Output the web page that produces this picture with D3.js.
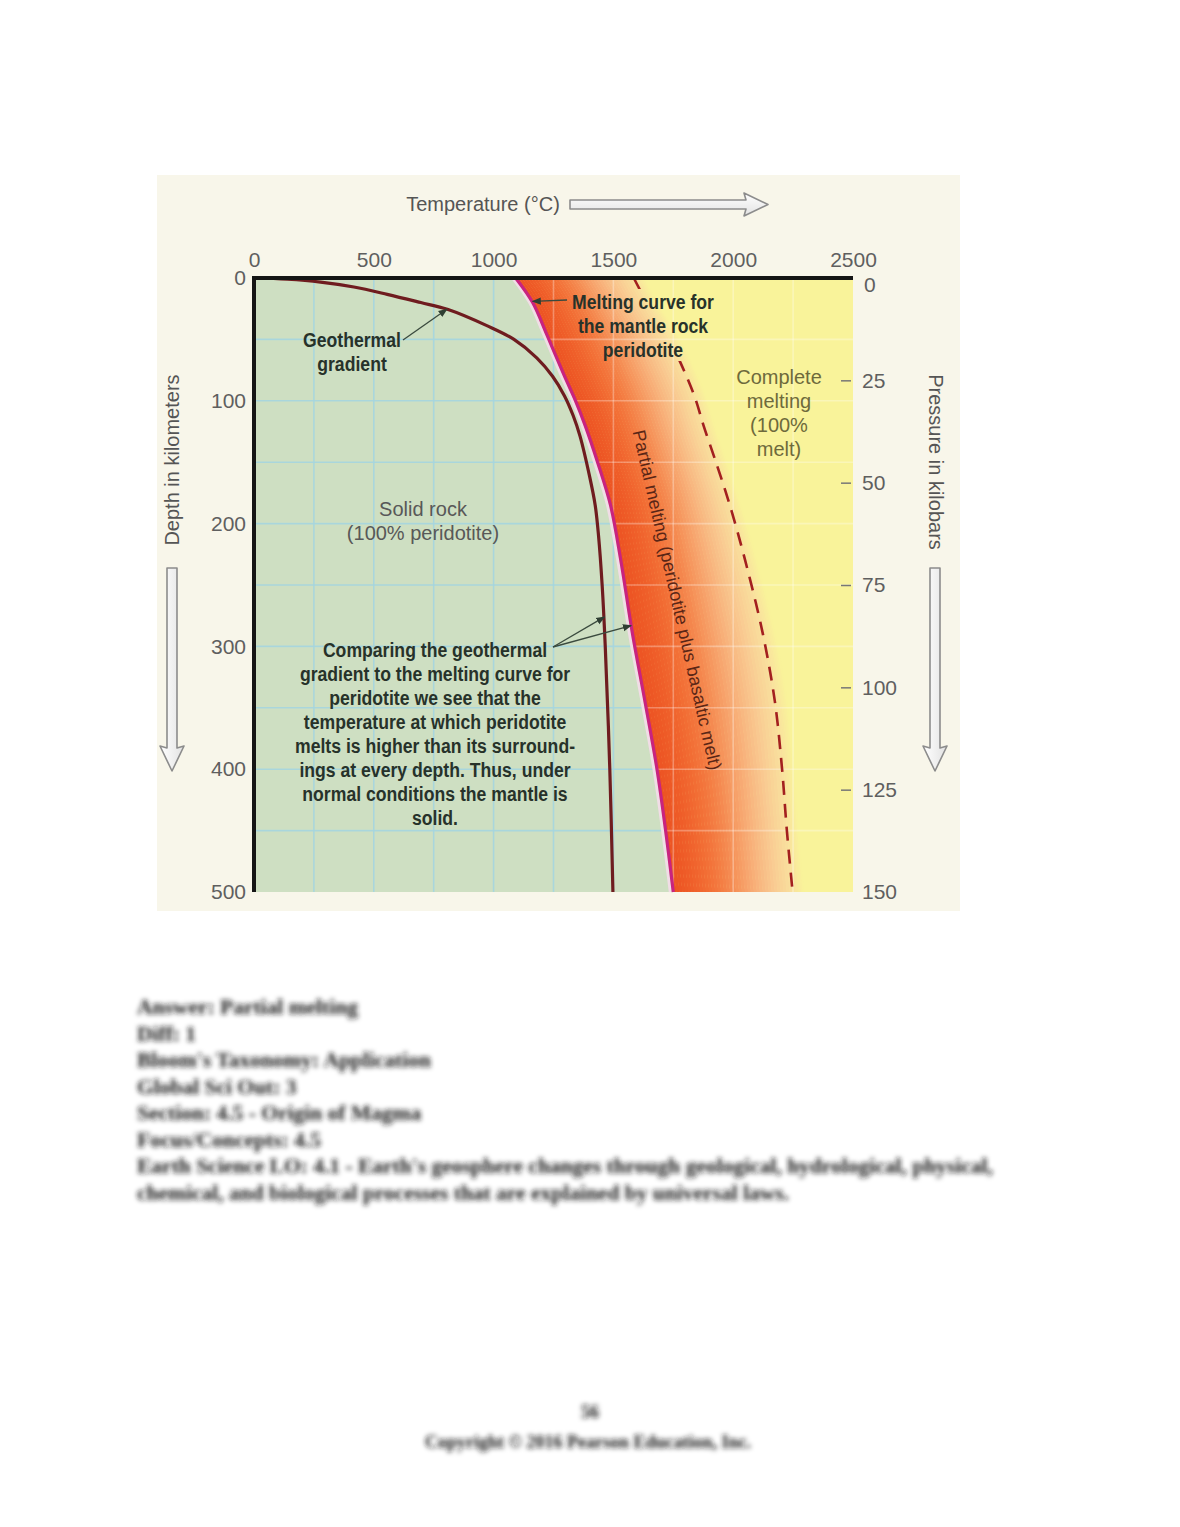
<!DOCTYPE html>
<html>
<head>
<meta charset="utf-8">
<script src="https://cdn.jsdelivr.net/npm/d3@7/dist/d3.min.js"></script>
<style>
  html, body { margin: 0; padding: 0; background: #ffffff; }
  svg { display: block; }
</style>
</head>
<body>
<script>
// ---------------- DATA ----------------
const tempTicks = [0, 500, 1000, 1500, 2000, 2500];
const depthTicks = [0, 100, 200, 300, 400, 500];
const pressureTicks = [0, 25, 50, 75, 100, 125, 150];
const tempGrid = [250, 500, 750, 1000, 1250, 1500, 1750, 2000, 2250];
const depthGrid = [50, 100, 150, 200, 250, 300, 350, 400, 450];

// Geothermal gradient (depth km, temperature °C)
const geoDepth = [0, 1, 3.3, 7.3, 13.3, 20, 25.5, 39, 50, 65, 80, 96, 112, 129, 161, 185, 210, 250, 300, 400, 500];
const geoTemp  = [0, 139, 278, 417, 556, 696, 807, 974, 1085, 1180, 1246, 1296, 1332, 1361, 1400, 1424, 1438, 1453, 1466, 1485, 1498];

// Melting curves of peridotite (shared depth grid)
const meltDepth    = [0, 20, 47, 80, 100, 120, 150, 185, 230, 290, 345, 400, 450, 500];
const solidusTemp  = [1092, 1163, 1224, 1296, 1342, 1382, 1434, 1488, 1531, 1580, 1632, 1682, 1718, 1750];
const liquidusTemp = [1585, 1640, 1725, 1805, 1845, 1876, 1928, 1986, 2050, 2124, 2174, 2204, 2224, 2248];

const footerLines = [
  "Answer:  Partial melting",
  "Diff: 1",
  "Bloom's Taxonomy:  Application",
  "Global Sci Out:  3",
  "Section:  4.5 - Origin of Magma",
  "Focus/Concepts:  4.5",
  "Earth Science LO:  4.1 - Earth's geosphere changes through geological, hydrological, physical,",
  "chemical, and biological processes that are explained by universal laws."
];

// ---------------- SETUP ----------------
const W = 1180, H = 1527;
const svg = d3.select("body").append("svg").attr("width", W).attr("height", H);
const x = d3.scaleLinear().domain([0, 2500]).range([254, 853]);
const y = d3.scaleLinear().domain([0, 500]).range([278, 892]);
const p = d3.scaleLinear().domain([0, 150]).range([278, 892]);

const SANS = "'Liberation Sans', Arial, sans-serif";

const defs = svg.append("defs");
defs.append("marker").attr("id", "ah").attr("viewBox", "0 0 10 10")
  .attr("refX", 9).attr("refY", 5).attr("markerWidth", 7).attr("markerHeight", 7)
  .attr("orient", "auto-start-reverse")
  .append("path").attr("d", "M0,1 L10,5 L0,9 Z").attr("fill", "#2f3f33");
const ag = defs.append("linearGradient").attr("id", "arrowGrad").attr("x1", 0).attr("y1", 0).attr("x2", 0).attr("y2", 1);
ag.append("stop").attr("offset", "0").attr("stop-color", "#ffffff");
ag.append("stop").attr("offset", "1").attr("stop-color", "#e2e2e2");
const agv = defs.append("linearGradient").attr("id", "arrowGradV").attr("x1", 0).attr("y1", 0).attr("x2", 1).attr("y2", 0);
agv.append("stop").attr("offset", "0").attr("stop-color", "#ffffff");
agv.append("stop").attr("offset", "1").attr("stop-color", "#e2e2e2");
defs.append("filter").attr("id", "blur").attr("x", "-5%").attr("y", "-50%").attr("width", "110%").attr("height", "200%")
  .append("feGaussianBlur").attr("stdDeviation", 2.4);

// mask hiding the dashed line behind the "Melting curve" label
const mk = defs.append("mask").attr("id", "labelMask").attr("maskUnits", "userSpaceOnUse")
  .attr("x", 0).attr("y", 0).attr("width", W).attr("height", H);
mk.append("rect").attr("x", 0).attr("y", 0).attr("width", W).attr("height", H).attr("fill", "#fff");
mk.append("rect").attr("x", 565).attr("y", 289).attr("width", 160).attr("height", 72).attr("fill", "#000");

// panel
svg.append("rect").attr("x", 157).attr("y", 175).attr("width", 803).attr("height", 736).attr("fill", "#f8f6ea");

// ---------------- REGIONS ----------------
const melt = meltDepth.map((d, i) => ({ d, s: solidusTemp[i], l: liquidusTemp[i] }));
const geo = geoDepth.map((d, i) => ({ d, t: geoTemp[i] }));
const curve = d3.curveCatmullRom.alpha(0.5);

svg.append("rect").attr("x", x(0)).attr("y", y(0)).attr("width", x(2500) - x(0)).attr("height", y(500) - y(0))
  .attr("fill", "#cedfc2");

defs.append("clipPath").attr("id", "leftClip").append("path")
  .attr("d", d3.area().curve(curve).y(m => y(m.d)).x0(x(0)).x1(m => x(m.s))(melt));
defs.append("clipPath").attr("id", "rightClip").append("path")
  .attr("d", d3.area().curve(curve).y(m => y(m.d)).x0(m => x(m.s)).x1(x(2500))(melt));

svg.append("path")
  .attr("d", d3.area().curve(curve).y(m => y(m.d)).x0(m => x(m.s)).x1(x(2500))(melt))
  .attr("fill", "#f9f39a");

const ramp = d3.interpolateRgbBasis(["#ec5223", "#ef5d28", "#f26c33", "#f47f45", "#f69a62", "#f8b47e", "#f9cc94", "#f9e09e"]);
const N = 40;
for (let k = 0; k < N; k++) {
  const f0 = k / N, f1 = Math.min((k + 1.15) / N, 1);
  svg.append("path")
    .attr("d", d3.area().curve(curve).y(m => y(m.d))
      .x0(m => x(m.s + f0 * (m.l - m.s)))
      .x1(m => x(m.s + f1 * (m.l - m.s)))(melt))
    .attr("fill", ramp((k + 0.5) / N));
}
const fade = d3.interpolateRgb("#f9e09e", "#f9f39a");
const M = 8;
for (let k = 0; k < M; k++) {
  const f0 = 1 + k * 0.012, f1 = 1 + (k + 1.2) * 0.012;
  svg.append("path")
    .attr("d", d3.area().curve(curve).y(m => y(m.d))
      .x0(m => x(m.s + f0 * (m.l - m.s)))
      .x1(m => x(m.s + f1 * (m.l - m.s)))(melt))
    .attr("fill", fade((k + 0.5) / M));
}

// ---------------- GRID ----------------
function grid(g, color, op) {
  g.selectAll("line.v").data(tempGrid).join("line").attr("class", "v")
    .attr("x1", d => x(d)).attr("x2", d => x(d)).attr("y1", y(0)).attr("y2", y(500))
    .attr("stroke", color).attr("stroke-width", 1.6).attr("opacity", op);
  g.selectAll("line.h").data(depthGrid).join("line").attr("class", "h")
    .attr("y1", d => y(d)).attr("y2", d => y(d)).attr("x1", x(0)).attr("x2", x(2500))
    .attr("stroke", color).attr("stroke-width", 1.6).attr("opacity", op);
}
grid(svg.append("g").attr("clip-path", "url(#leftClip)"), "#a6d6df", 0.9);
grid(svg.append("g").attr("clip-path", "url(#rightClip)"), "#ffffff", 0.3);

// ---------------- CURVES ----------------
svg.append("path")
  .attr("d", d3.line().curve(curve).y(m => y(m.d)).x(m => x(m.l))(melt))
  .attr("fill", "none").attr("stroke", "#a3201f").attr("stroke-width", 2.6)
  .attr("stroke-dasharray", "14,9").attr("mask", "url(#labelMask)");
svg.append("path")
  .attr("d", d3.line().curve(curve).y(m => y(m.d)).x(m => x(m.s) - 3)(melt))
  .attr("fill", "none").attr("stroke", "#f1dde6").attr("stroke-width", 3);
svg.append("path")
  .attr("d", d3.line().curve(curve).y(m => y(m.d)).x(m => x(m.s))(melt))
  .attr("fill", "none").attr("stroke", "#c9237f").attr("stroke-width", 3.2);
svg.append("path")
  .attr("d", d3.line().curve(curve).y(g => y(g.d)).x(g => x(g.t))(geo))
  .attr("fill", "none").attr("stroke", "#6f1c1f").attr("stroke-width", 3.2);

// ---------------- AXES ----------------
svg.append("line").attr("x1", x(0) - 2).attr("x2", x(2500)).attr("y1", y(0)).attr("y2", y(0))
  .attr("stroke", "#151515").attr("stroke-width", 4);
svg.append("line").attr("x1", x(0)).attr("x2", x(0)).attr("y1", y(0)).attr("y2", y(500))
  .attr("stroke", "#151515").attr("stroke-width", 4);

function styleAxis(g) {
  g.select(".domain").remove();
  g.selectAll("text").attr("font-family", SANS).attr("font-size", 21).attr("fill", "#5f5f5f");
}
svg.append("g").attr("transform", "translate(0,267)")
  .call(d3.axisTop(x).tickValues(tempTicks).tickSize(0).tickPadding(0).tickFormat(d3.format("d")))
  .call(styleAxis);
svg.append("g").attr("transform", "translate(246,0)")
  .call(d3.axisLeft(y).tickValues(depthTicks).tickSize(0).tickPadding(0).tickFormat(d3.format("d")))
  .call(styleAxis);
const rAx = svg.append("g").attr("transform", "translate(841,0)")
  .call(d3.axisRight(p).tickValues(pressureTicks).tickSize(10).tickPadding(11).tickFormat(d3.format("d")))
  .call(styleAxis);
rAx.selectAll(".tick line").attr("stroke", "#777").attr("stroke-width", 1.5)
  .attr("opacity", d => (d === 0 || d === 150) ? 0 : 1);
rAx.selectAll(".tick").filter(d => d === 0).select("text").attr("dy", "0.62em").attr("x", 23);

// axis titles
svg.append("text").attr("x", 483).attr("y", 211).attr("text-anchor", "middle")
  .attr("font-family", SANS).attr("font-size", 20).attr("fill", "#555").text("Temperature (°C)");
svg.append("text").attr("transform", "translate(179,460) rotate(-90)").attr("text-anchor", "middle")
  .attr("font-family", SANS).attr("font-size", 20).attr("fill", "#555").text("Depth in kilometers");
svg.append("text").attr("transform", "translate(929,462) rotate(90)").attr("text-anchor", "middle")
  .attr("font-family", SANS).attr("font-size", 20).attr("fill", "#555").text("Pressure in kilobars");

// hollow arrows
svg.append("path").attr("d", "M570,200 L746,200 L744,193 L768,204.5 L744,216 L746,209 L570,209 Z")
  .attr("fill", "url(#arrowGrad)").attr("stroke", "#8c8c8c").attr("stroke-width", 1.6).attr("stroke-linejoin", "round");
[172, 935].forEach(cx => {
  svg.append("path")
    .attr("d", `M${cx - 5},568 L${cx - 5},748 L${cx - 12},746 L${cx},771 L${cx + 12},746 L${cx + 5},748 L${cx + 5},568 Z`)
    .attr("fill", "url(#arrowGradV)").attr("stroke", "#8c8c8c").attr("stroke-width", 1.6).attr("stroke-linejoin", "round");
});

// ---------------- ANNOTATIONS ----------------
function block(lines, cx, y0, lh, opts) {
  const t = svg.append("text").attr("text-anchor", "middle")
    .attr("transform", `translate(${cx},0) scale(${opts.sx || 1},1)`)
    .attr("font-family", opts.font).attr("font-size", opts.size)
    .attr("font-weight", opts.weight || "normal").attr("fill", opts.fill);
  lines.forEach((s, i) => t.append("tspan").attr("x", 0).attr("y", y0 + i * lh).text(s));
}
const boldOpts = { font: SANS, size: 20.5, weight: "bold", fill: "#27322a", sx: 0.86 };
block(["Geothermal", "gradient"], 352, 347, 24, boldOpts);
block(["Melting curve for", "the mantle rock", "peridotite"], 643, 309, 24, boldOpts);
block(["Comparing the geothermal", "gradient to the melting curve for", "peridotite we see that the",
  "temperature at which peridotite", "melts is higher than its surround-", "ings at every depth. Thus, under",
  "normal conditions the mantle is", "solid."], 435, 657, 24, boldOpts);
block(["Complete", "melting", "(100%", "melt)"], 779, 384, 24, { font: SANS, size: 20, fill: "#6e6a3c" });
block(["Solid rock", "(100% peridotite)"], 423, 516, 24, { font: SANS, size: 20, fill: "#585858" });

svg.append("text").attr("transform", "translate(677,600) rotate(77.2)")
  .attr("text-anchor", "middle").attr("dominant-baseline", "central")
  .attr("font-family", SANS).attr("font-size", 18).attr("fill", "#5a2616")
  .text("Partial melting (peridotite plus basaltic melt)");

function leader(x1, y1, x2, y2) {
  svg.append("line").attr("x1", x1).attr("y1", y1).attr("x2", x2).attr("y2", y2)
    .attr("stroke", "#3a4a3e").attr("stroke-width", 1.3).attr("marker-end", "url(#ah)");
}
leader(403, 340, x(805), y(25.5));
leader(567, 300, x(1163), y(19));
leader(553, 647, x(1463), y(276));
leader(553, 647, x(1574), y(283));

// ---------------- PAGE TEXT (blurred in the original) ----------------
const SERIF = "'Liberation Serif', 'Times New Roman', serif";
const foot = svg.append("g").attr("filter", "url(#blur)");
foot.selectAll("text").data(footerLines).join("text")
  .attr("x", 137).attr("y", (d, i) => 1014 + i * 26.5)
  .attr("font-family", SERIF).attr("font-size", 21.5).attr("font-weight", "bold").attr("fill", "#1a1a1a")
  .text(d => d);
foot.append("text").attr("x", 590).attr("y", 1418).attr("text-anchor", "middle")
  .attr("font-family", SERIF).attr("font-size", 18).attr("font-weight", "bold").attr("fill", "#1a1a1a").text("56");
foot.append("text").attr("x", 588).attr("y", 1448).attr("text-anchor", "middle")
  .attr("font-family", SERIF).attr("font-size", 18).attr("font-weight", "bold").attr("fill", "#1a1a1a")
  .text("Copyright © 2016 Pearson Education, Inc.");
</script>
</body>
</html>
